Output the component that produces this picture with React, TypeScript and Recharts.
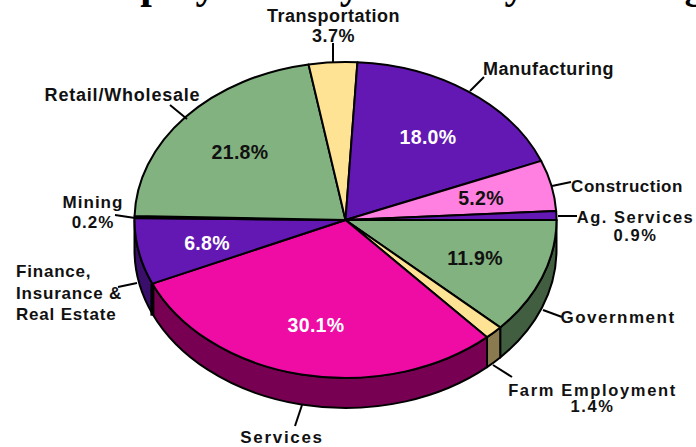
import { Pie, PieChart } from 'recharts';

const sliceNames = [
  'Government',
  'Farm Employment',
  'Services',
  'Finance, Insurance & Real Estate',
  'Mining',
  'Retail/Wholesale',
  'Transportation',
  'Manufacturing',
  'Construction',
  'Ag. Services',
];
const sliceValues = [11.9, 1.4, 30.1, 6.8, 0.2, 21.8, 3.7, 18.0, 5.2, 0.9];
const topColors = ['#82b27f', '#ffe394', '#ee0ca5', '#6318b4', '#6318b4', '#82b27f', '#ffe394', '#6318b4', '#ff80e0', '#6318b4'];
const wallColors = ['#415e41', '#8a7a50', '#780052', '#3a0f6c', '#3a0f6c', '#415e41', '#8a7a50', '#3a0f6c', '#80406f', '#3a0f6c'];

const chartData = sliceNames.map((name, i) => ({ name, value: sliceValues[i], top: topColors[i], wall: wallColors[i] }));

const WIDTH = 696;
const HEIGHT = 447;
const CX = 345.5;
const CY = 220;
const RX = 211;
const RY = 158;
const DEPTH = 30;
const RAD = Math.PI / 180;
const FONT = '"Liberation Sans", Arial, sans-serif';

// outside callouts: text lines + leader line, one entry per slice
const callouts: Record<
  string,
  { lines: string[]; x: number; y: number; size: number; gap?: number; anchor?: string; spacing: number; lead: number[] }
> = {
  Government: { lines: ['Government'], x: 618, y: 323, size: 17, spacing: 1.5, lead: [543, 310, 562, 317] },
  'Farm Employment': { lines: ['Farm Employment', '1.4%'], x: 592.5, y: 396, size: 16.5, gap: 16, spacing: 1.65, lead: [493, 365, 512, 377] },
  Services: { lines: ['Services'], x: 282, y: 443, size: 17, spacing: 1.7, lead: [302, 405, 295, 426] },
  'Finance, Insurance & Real Estate': {
    lines: ['Finance,', 'Insurance &', 'Real Estate'],
    x: 16,
    y: 277,
    size: 17,
    gap: 21.5,
    anchor: 'start',
    spacing: 0.8,
    lead: [137, 283, 118, 287],
  },
  Mining: { lines: ['Mining', '0.2%'], x: 93, y: 208, size: 17, gap: 20, spacing: 1, lead: [135, 218, 115, 215] },
  'Retail/Wholesale': { lines: ['Retail/Wholesale'], x: 122.5, y: 101, size: 18, spacing: 0.8, lead: [170, 105, 187, 119] },
  Transportation: { lines: ['Transportation', '3.7%'], x: 333.5, y: 22, size: 18, gap: 20, spacing: 0.5, lead: [333, 43, 333, 63] },
  Manufacturing: { lines: ['Manufacturing'], x: 548.5, y: 75, size: 18, spacing: 0.55, lead: [484, 77, 470, 91] },
  Construction: { lines: ['Construction'], x: 627, y: 192, size: 17, spacing: 0.5, lead: [571, 182, 552, 186] },
  'Ag. Services': { lines: ['Ag. Services', '0.9%'], x: 635.5, y: 223, size: 16.5, gap: 17.5, spacing: 1.55, lead: [558, 216, 577, 216] },
};

// values printed on the slice itself
const insideLabels: Record<string, { x: number; y: number; fill: string }> = {
  Government: { x: 475, y: 265, fill: '#111111' },
  Services: { x: 316, y: 332, fill: '#ffffff' },
  'Finance, Insurance & Real Estate': { x: 207, y: 250, fill: '#ffffff' },
  'Retail/Wholesale': { x: 240, y: 159, fill: '#111111' },
  Manufacturing: { x: 428, y: 144, fill: '#ffffff' },
  Construction: { x: 481, y: 205, fill: '#111111' },
};

// point on the tilted rim for a pie angle
const rim = (angle: number, dy = 0) => [CX + RX * Math.cos(angle * RAD), CY - RY * Math.sin(angle * RAD) + dy];

function arcPath(from: number, to: number, dy = 0) {
  const [x, y] = rim(to, dy);
  const large = Math.abs(to - from) > 180 ? 1 : 0;
  const sweep = to < from ? 1 : 0;
  return `A ${RX} ${RY} 0 ${large} ${sweep} ${x} ${y}`;
}

function TiltedSector(props: any) {
  const { startAngle, endAngle, payload } = props;
  const [sx, sy] = rim(startAngle);
  const top = `M ${CX} ${CY} L ${sx} ${sy} ${arcPath(startAngle, endAngle)} Z`;

  // the visible wall is the part of the slice in the front half (angles 0 to -180)
  const wallFrom = Math.min(startAngle, 0);
  const wallTo = Math.max(endAngle, -180);
  let wall = null;
  if (wallFrom > wallTo) {
    const [ax, ay] = rim(wallFrom);
    const [bx, by] = rim(wallTo);
    const d = `M ${ax} ${ay} ${arcPath(wallFrom, wallTo)} L ${bx} ${by + DEPTH} ${arcPath(wallTo, wallFrom, DEPTH)} L ${ax} ${ay} Z`;
    wall = (
      <g>
        <path d={d} fill={payload.wall} stroke="#000" strokeWidth={2} strokeLinejoin="round" />
        {/* heavy black edge between the Finance and Services walls */}
        {payload.name.startsWith('Finance') && <line x1={ax} y1={ay} x2={ax} y2={ay + DEPTH + 2} stroke="#000" strokeWidth={4} />}
      </g>
    );
  }
  return (
    <g>
      {wall}
      <path d={top} fill={payload.top} stroke="#000" strokeWidth={2} strokeLinejoin="round" />
    </g>
  );
}

function SliceLabel(props: any) {
  const { name, value } = props;
  const callout = callouts[name];
  const inside = insideLabels[name];
  const [x1, y1, x2, y2] = callout.lead;
  return (
    <g fontFamily={FONT} fontWeight="bold">
      <line x1={x1} y1={y1} x2={x2} y2={y2} stroke="#000" strokeWidth={2} />
      <text
        x={callout.x}
        y={callout.y}
        textAnchor={callout.anchor ?? 'middle'}
        fontSize={callout.size}
        letterSpacing={callout.spacing}
        fill="#111"
      >
        {callout.lines.map((line, i) => (
          <tspan key={line} x={callout.x} dy={i === 0 ? 0 : callout.gap}>
            {line}
          </tspan>
        ))}
      </text>
      {inside && (
        <text x={inside.x} y={inside.y} textAnchor="middle" fontSize={19.5} fill={inside.fill} letterSpacing={0.3}>
          {value.toFixed(1)}%
        </text>
      )}
    </g>
  );
}

export default function App() {
  return (
    <div style={{ position: 'absolute', left: 0, top: 0, width: WIDTH, height: HEIGHT, overflow: 'hidden', background: '#fff' }}>
      <PieChart width={WIDTH} height={HEIGHT} margin={{ top: 0, right: 0, bottom: 0, left: 0 }}>
        {/* the title is cropped by the top edge in the reference too, only descenders show */}
        <text x={78} y={-2.5} textAnchor="start" fontFamily='"Liberation Serif", serif' fontWeight="bold" fontSize={41.5} fill="#000">
          Employment by Industry in Michigan
        </text>
        <Pie
          data={chartData}
          dataKey="value"
          nameKey="name"
          cx={CX}
          cy={CY}
          outerRadius={RX}
          startAngle={0}
          endAngle={-360}
          paddingAngle={0}
          stroke="none"
          shape={TiltedSector}
          label={SliceLabel}
          labelLine={false}
          isAnimationActive={false}
        />
      </PieChart>
    </div>
  );
}
